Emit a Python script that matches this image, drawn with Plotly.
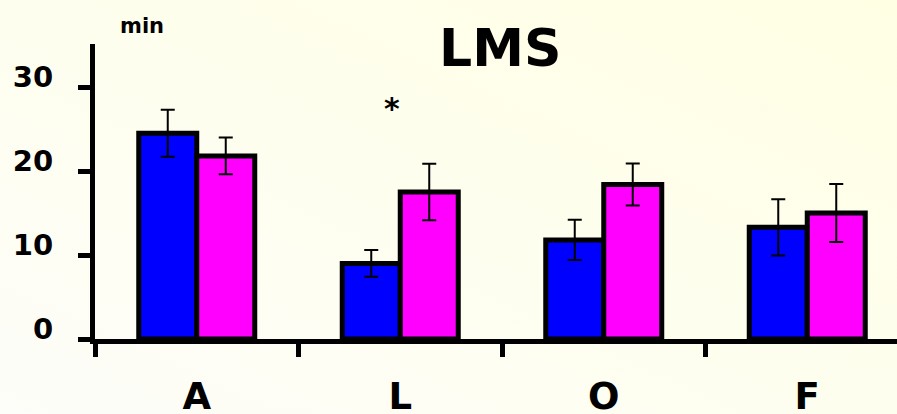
import base64
import plotly.graph_objects as go

# Mean durations (min) per stage, two groups, with error bars
categories = ["A", "L", "O", "F"]
blue_values = [24.5, 9.0, 11.8, 13.3]
blue_errors = [2.8, 1.6, 2.4, 3.35]
pink_values = [21.8, 17.5, 18.4, 15.0]
pink_errors = [2.2, 3.35, 2.5, 3.45]
y_ticks = [0, 10, 20, 30]

FONT = "DejaVu Sans"
W, H = 897, 414
ML, MR, MT, MB = 95, 0, 44, 75

# soft diagonal cream gradient for the whole canvas
svg = (
    f'<svg xmlns="http://www.w3.org/2000/svg" width="{W}" height="{H}" '
    f'viewBox="0 0 {W} {H}" preserveAspectRatio="none">'
    '<defs><linearGradient id="g" x1="0" y1="1" x2="1" y2="0">'
    '<stop offset="0" stop-color="#FDFDF9"/>'
    '<stop offset="1" stop-color="#FFFFE4"/>'
    '</linearGradient></defs>'
    f'<rect width="{W}" height="{H}" fill="url(#g)"/></svg>'
)
bg_uri = "data:image/svg+xml;base64," + base64.b64encode(svg.encode()).decode()

pw, ph = W - ML - MR, H - MT - MB

fig = go.Figure()
fig.add_trace(go.Bar(
    x=categories, y=blue_values, name="group 1",
    marker=dict(color="#0000FF", line=dict(color="black", width=5)),
    error_y=dict(type="data", array=blue_errors, color="black", thickness=2, width=7),
))
fig.add_trace(go.Bar(
    x=categories, y=pink_values, name="group 2",
    marker=dict(color="#FF00FF", line=dict(color="black", width=5)),
    error_y=dict(type="data", array=pink_errors, color="black", thickness=2, width=7),
))

fig.update_layout(
    width=W, height=H,
    margin=dict(l=ML, r=MR, t=MT, b=MB, pad=0, autoexpand=False),
    barmode="group", bargap=0.43, bargroupgap=0,
    showlegend=False,
    paper_bgcolor="#FEFEF0", plot_bgcolor="rgba(0,0,0,0)",
    images=[dict(
        source=bg_uri, xref="paper", yref="paper",
        x=-ML / pw, y=(H - MB) / ph, sizex=W / pw, sizey=H / ph,
        xanchor="left", yanchor="top", sizing="stretch", layer="below",
    )],
    xaxis=dict(
        range=[-0.5, -0.5 + pw / 203.5], automargin=False,
        showline=True, linecolor="black", linewidth=5,
        ticks="outside", tickson="boundaries", ticklen=13, tickwidth=5, tickcolor="black",
        showgrid=False, zeroline=False,
        tickfont=dict(family=FONT, size=37, color="black", weight="bold"),
        ticklabelstandoff=21,
    ),
    yaxis=dict(
        range=[0, ph / 8.4], automargin=False,
        tickvals=y_ticks, ticktext=[str(v) for v in y_ticks],
        showline=True, linecolor="black", linewidth=5,
        ticks="outside", ticklen=12, tickwidth=5, tickcolor="black",
        showgrid=False, zeroline=False,
        tickfont=dict(family=FONT, size=29, color="black", weight="bold"),
        ticklabelstandoff=19, ticklabelshift=-10,
    ),
    annotations=[
        dict(text="LMS", xref="paper", yref="paper",
             x=(500 - ML) / pw, y=(H - MB - 48) / ph, showarrow=False,
             xanchor="center", yanchor="middle",
             font=dict(family=FONT, size=52, color="black", weight="bold")),
        dict(text="min", xref="paper", yref="paper",
             x=(142 - ML) / pw, y=(H - MB - 26) / ph, showarrow=False,
             xanchor="center", yanchor="middle",
             font=dict(family=FONT, size=21, color="black", weight="bold")),
        dict(text="*", xref="x", yref="y", x=1, y=27.4, xshift=-8,
             showarrow=False, xanchor="center", yanchor="middle",
             font=dict(family=FONT, size=30, color="black", weight="bold")),
    ],
)

fig.write_html("out.html")
